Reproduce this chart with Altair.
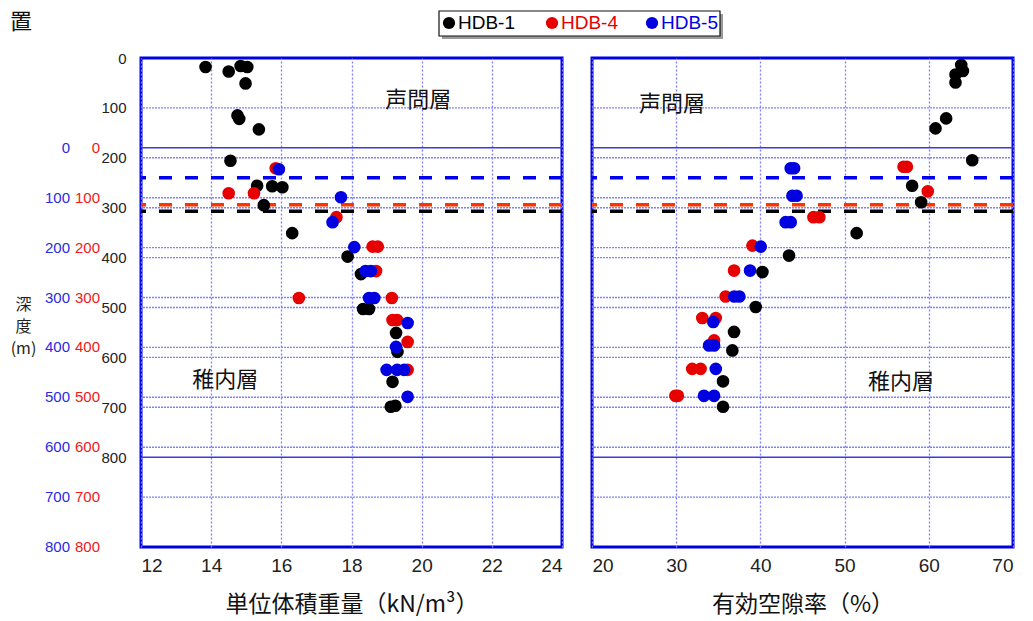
import altair as alt
import pandas as pd
import numpy as np

# ---------------- data ----------------
HOLES = ["HDB-1", "HDB-4", "HDB-5"]
HOLE_COLORS = ["#000000", "#e60000", "#0000e0"]
# depth scale of HDB-4 / HDB-5 is shifted relative to HDB-1 (m)
OFFSET = {"HDB-1": 0, "HDB-4": 180, "HDB-5": 180}

# unit weight (kN/m3) : depth in each hole's own depth (m)
uw_hdb1_depth = [16, 18, 18, 27, 51, 115, 122, 143, 206, 256, 257, 259, 295, 351, 398, 433, 503, 503, 551, 589, 649, 697, 699]
uw_hdb1_value = [14.84, 13.84, 15.03, 14.5, 14.98, 14.75, 14.8, 15.36, 14.55, 15.31, 15.74, 16.03, 15.5, 16.31, 17.89, 18.27, 18.33, 18.5, 19.27, 19.31, 19.17, 19.25, 19.12]
uw_hdb4_depth = [41, 91, 91, 139, 198, 198, 247, 301, 301, 345, 345, 389, 445]
uw_hdb4_value = [15.84, 14.5, 15.22, 17.57, 18.6, 18.75, 18.7, 16.5, 19.15, 19.17, 19.3, 19.6, 19.6]
uw_hdb5_depth = [43, 99, 149, 199, 247, 247, 301, 301, 351, 399, 445, 445, 445, 499]
uw_hdb5_value = [15.93, 17.7, 17.46, 18.08, 18.4, 18.55, 18.5, 18.65, 19.6, 19.27, 19.0, 19.3, 19.5, 19.6]

# effective porosity (%)
ep_hdb1_depth = [14, 26, 33, 49, 121, 141, 205, 256, 289, 351, 396, 429, 499, 549, 586, 648, 699]
ep_hdb1_value = [63.85, 64.05, 63.17, 63.17, 62.06, 60.8, 65.16, 58.02, 59.09, 51.43, 43.4, 40.24, 39.44, 36.87, 36.67, 35.56, 35.56]
ep_hdb4_depth = [38, 38, 87, 139, 139, 196, 246, 298, 341, 341, 386, 443, 443, 497, 497]
ep_hdb4_value = [57.0, 57.4, 59.88, 46.3, 47.0, 39.05, 36.87, 35.87, 33.1, 34.7, 34.5, 31.9, 32.9, 29.9, 30.2]
ep_hdb5_depth = [41, 41, 96, 96, 149, 149, 198, 246, 298, 298, 349, 396, 396, 443, 497, 497]
ep_hdb5_value = [43.6, 44.0, 43.8, 44.3, 43.0, 43.6, 40.04, 38.77, 36.9, 37.5, 34.4, 33.9, 34.5, 34.7, 33.3, 34.5]

# formation boundary (声問層 / 稚内層) in each hole's own depth (m)
boundary_depth = [307, 114, 60]
boundary_colors = ["#000000", "#ff3300", "#0000ee"]

# depth tick labels
depth_labels = [0, 100, 200, 300, 400, 500, 600, 700, 800]
grid_dotted = [100, 200, 300, 400, 500, 600, 700, 280, 380, 480, 580, 680, 780, 880]
grid_solid = [180, 800]

uw_ticks = [12, 14, 16, 18, 20, 22, 24]
ep_ticks = [20, 30, 40, 50, 60, 70]

# ---------------- helpers ----------------
def pts(depths, values):
    frames = []
    for h, d, v in zip(HOLES, depths, values):
        frames.append(pd.DataFrame({"depth": np.array(d) + OFFSET[h], "value": v, "hole": h}))
    return pd.concat(frames, ignore_index=True)

uw_df = pts([uw_hdb1_depth, uw_hdb4_depth, uw_hdb5_depth], [uw_hdb1_value, uw_hdb4_value, uw_hdb5_value])
ep_df = pts([ep_hdb1_depth, ep_hdb4_depth, ep_hdb5_depth], [ep_hdb1_value, ep_hdb4_value, ep_hdb5_value])

W, H = 421, 489
yscale = alt.Scale(domain=[0, 980], reverse=True, nice=False, zero=False)
BLUE_GRID = "#7f7fff"
CJK = "Noto Sans CJK JP"
NUM = "Liberation Sans"

left_yaxis = alt.Axis(values=depth_labels, grid=False, ticks=False, domain=False,
                      labelFont=NUM, labelFontSize=15, labelColor="#222222", labelPadding=15,
                      title=["深", "度", "(m)"], titleAngle=0, titleAlign="center", titleBaseline="top",
                      titleX=-118, titleY=238, titleFont=CJK, titleFontSize=16, titleFontWeight="normal",
                      titleLineHeight=22, titleColor="#222222")


def Y(axis):
    return alt.Y("depth:Q", scale=yscale, axis=axis)


def panel(df, dom, ticks, xtitle, yaxis, labels, extra=None):
    xaxis = alt.Axis(values=ticks, grid=True, gridColor=BLUE_GRID, gridDash=[2, 2], gridWidth=1.3,
                     ticks=False, domain=False, labelFont=NUM, labelFontSize=19, labelColor="#222222",
                     labelPadding=9, title=xtitle, titleFont=CJK, titleFontSize=23,
                     titleFontWeight="normal", titleColor="#111111", titlePadding=18)
    X = alt.X("value:Q", scale=alt.Scale(domain=dom, nice=False, zero=False), axis=xaxis)
    layers = []
    gd = pd.DataFrame({"depth": grid_dotted})
    layers.append(alt.Chart(gd).mark_rule(color=BLUE_GRID, strokeWidth=1.4, strokeDash=[2, 1]).encode(y=Y(yaxis)))
    gs = pd.DataFrame({"depth": grid_solid})
    layers.append(alt.Chart(gs).mark_rule(color="#3a3ae0", strokeWidth=1.5).encode(y=Y(yaxis)))
    for h, bd, c in zip(HOLES, boundary_depth, boundary_colors):
        b = pd.DataFrame({"depth": [bd + OFFSET[h]]})
        layers.append(alt.Chart(b).mark_rule(color=c, strokeWidth=3.5, strokeDash=[13, 13]).encode(y=Y(yaxis)))
    layers.append(
        alt.Chart(df).mark_circle(size=160, opacity=1).encode(
            x=X, y=Y(yaxis),
            color=alt.Color("hole:N", scale=alt.Scale(domain=HOLES, range=HOLE_COLORS), legend=None),
        )
    )
    for txt, xv, dv in labels:
        layers.append(
            alt.Chart(pd.DataFrame({"t": [txt]})).mark_text(font=CJK, fontSize=22, color="#111111").encode(
                x=alt.datum(xv), y=alt.datum(dv), text="t:N")
        )
    if extra:
        layers.extend(extra)
    return alt.layer(*layers).properties(width=W, height=H)


# extra elements of the left panel: shifted depth labels, legend, corner text
extra = []
for h, c, xpx in [("HDB-5", "#2a2ae6", -71), ("HDB-4", "#f01818", -41)]:
    ld = pd.DataFrame({"depth": np.array(depth_labels) + OFFSET[h], "lab": [str(v) for v in depth_labels]})
    extra.append(alt.Chart(ld).mark_text(font=NUM, fontSize=15, color=c, align="right", baseline="middle").encode(
        x=alt.value(xpx), y=Y(left_yaxis), text="lab:N"))

extra.append(alt.Chart(pd.DataFrame({"a": [1]})).mark_rect(fill="#9a9a9a").encode(
    x=alt.value(301), x2=alt.value(582), y=alt.value(-44), y2=alt.value(-19)))
extra.append(alt.Chart(pd.DataFrame({"a": [1]})).mark_rect(fill="white", stroke="#111111", strokeWidth=1.2).encode(
    x=alt.value(298), x2=alt.value(579), y=alt.value(-47), y2=alt.value(-22)))
for name, c, xpx in zip(HOLES, HOLE_COLORS, [308, 411, 511]):
    one = pd.DataFrame({"name": [name]})
    extra.append(alt.Chart(one).mark_circle(size=150, opacity=1, color=c).encode(
        x=alt.value(xpx), y=alt.value(-35)))
    extra.append(alt.Chart(one).mark_text(font=NUM, fontSize=19, color=c, align="left", baseline="middle").encode(
        x=alt.value(xpx + 9), y=alt.value(-35), text="name:N"))
extra.append(alt.Chart(pd.DataFrame({"t": ["置"]})).mark_text(font=CJK, fontSize=22, color="#111111",
                                                               align="left", baseline="middle").encode(
    x=alt.value(-131), y=alt.value(-36), text="t:N"))

left = panel(uw_df, [12, 24], uw_ticks, "単位体積重量（kN/m³）", left_yaxis,
             [("声問層", 19.9, 84), ("稚内層", 14.4, 646)], extra)
right = panel(ep_df, [20, 70], ep_ticks, "有効空隙率（%）", None,
              [("声問層", 29.5, 92), ("稚内層", 56.7, 650)])

chart = alt.hconcat(left, right, spacing=30, bounds="flush", padding=0).configure_view(
    stroke="#0000e6", strokeWidth=3)

chart.save("out.html", embed_options={"renderer": "svg", "actions": False})
